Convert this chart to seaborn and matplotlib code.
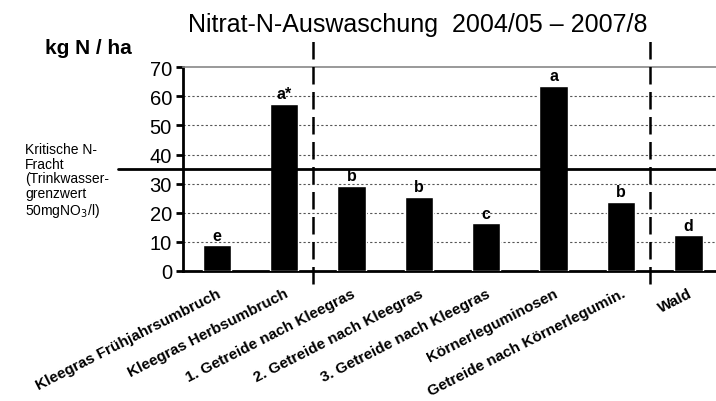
import numpy as np
import pandas as pd
import matplotlib
matplotlib.use("Agg")
import matplotlib.pyplot as plt
import seaborn as sns

sns.set_style("white")
plt.rcParams["font.family"] = ["Liberation Sans", "DejaVu Sans"]
plt.rcParams["text.color"] = "black"
plt.rcParams["xtick.color"] = "black"
plt.rcParams["ytick.color"] = "black"
plt.rcParams["axes.labelcolor"] = "black"

# Daten
kategorien = ["Kleegras Frühjahrsumbruch", "Kleegras Herbsumbruch",
              "1. Getreide nach Kleegras", "2. Getreide nach Kleegras",
              "3. Getreide nach Kleegras", "Körnerleguminosen",
              "Getreide nach Körnerlegumin.", "Wald"]
werte = [8.7, 57.5, 29.1, 25.3, 16.3, 63.6, 23.8, 12.2]
buchstaben = ["e", "a*", "b", "b", "c", "a", "b", "d"]
grenzwert = 35
y_ticks = [0, 10, 20, 30, 40, 50, 60, 70]
trennlinien = [1.43, 6.43]

df = pd.DataFrame({"kat": kategorien, "wert": werte})

fig = plt.figure(figsize=(7.16, 4.02), dpi=100)
ax = fig.add_axes([0.2556, 0.324, 1 - 0.2556, 0.506])

sns.barplot(data=df, x="kat", y="wert", color="black", width=0.42,
            saturation=1, ax=ax, zorder=3)

ax.set_ylim(0, 70)
ax.set_xlim(-0.5, 7.41)
ax.set_yticks(y_ticks)
ax.set_yticklabels([str(t) for t in y_ticks], fontsize=14.5)
ax.set_xlabel("")
ax.set_ylabel("")

# Gitternetz gepunktet
for t in y_ticks[1:-1]:
    ax.axhline(t, color="#555555", linestyle=(0, (2, 2)), linewidth=0.8, zorder=1)

# Achsen
ax.spines["right"].set_visible(False)
ax.spines["top"].set_color("#888888")
ax.spines["top"].set_linewidth(1.2)
ax.spines["left"].set_color("black")
ax.spines["bottom"].set_color("black")
ax.spines["left"].set_linewidth(2)
ax.spines["bottom"].set_linewidth(2)
ax.tick_params(axis="y", direction="out", length=5, width=2, left=True, pad=3)

# x-Ticks: Striche zwischen Kategorien, Beschriftung rotiert
ax.set_xticks(np.arange(len(kategorien)))
ax.set_xticklabels(kategorien, rotation=27, ha="right", rotation_mode="anchor",
                   fontsize=11, fontweight="bold")
ax.tick_params(axis="x", which="major", length=0, pad=11)
ax.set_xticks(np.arange(0.5, len(kategorien) - 0.5), minor=True)
ax.tick_params(axis="x", which="minor", direction="out", length=5, width=1.5)

# Signifikanzbuchstaben
for i, (w, b) in enumerate(zip(werte, buchstaben)):
    ax.annotate(b, xy=(i, w), xytext=(0, 2), textcoords="offset points",
                ha="center", va="bottom", fontsize=11.5, fontweight="bold")

# Kritische N-Fracht
ax.plot([-1.46, 7.41], [grenzwert, grenzwert], color="black", linewidth=2,
        clip_on=False, zorder=4)

# gestrichelte Trennlinien
for x in trennlinien:
    ax.plot([x, x], [-4.6, 79.7], color="black", linewidth=1.8,
            linestyle=(0, (7, 3)), clip_on=False, zorder=4)

fig.text(0.583, 0.938, "Nitrat-N-Auswaschung  2004/05 – 2007/8",
         ha="center", va="center", fontsize=18)
fig.text(0.063, 0.88, "kg N / ha", ha="left", va="center", fontsize=15,
         fontweight="bold")
fig.text(0.035, 0.645,
         "Kritische N-\nFracht\n(Trinkwasser-\ngrenzwert\n50mgNO$_3$/l)",
         ha="left", va="top", fontsize=10, linespacing=1.08)

fig.savefig("out.png", dpi=100)
